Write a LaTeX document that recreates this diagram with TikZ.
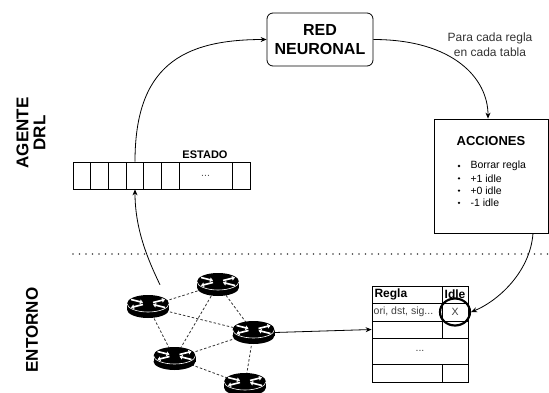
\documentclass[tikz,border=0pt]{standalone}
\usepackage{fontspec}
\setmainfont{Liberation Sans}
\usetikzlibrary{arrows.meta,shapes.geometric,calc}
\tikzset{
	arrowline/.style={line width=0.8pt, -{Stealth[length=6pt,width=5pt]}},
	link/.style={line width=0.8pt, dash pattern=on 2.5pt off 2pt, black!80},
	routerbox/.style={inner sep=0pt, minimum width=42pt, minimum height=23pt},
	title/.style={font=\fontsize{16}{19}\selectfont\bfseries, align=center},
	small/.style={font=\fontsize{10.5}{10.5}\selectfont},
}
\def\router#1{
	\begin{scope}[shift={(#1.center)}]
		\fill[black] (-21,-3) rectangle (21,3);
		\fill[black] (0,3) ellipse [x radius=21, y radius=8.5];
		\fill[black] (0,-3) ellipse [x radius=21, y radius=8.5];
		\draw[white, line width=0.6pt] (-21,-3) arc [start angle=180, end angle=0, x radius=21, y radius=8.5];
		\begin{scope}[shift={(0,-3)}, yscale=0.4]
			\draw[white, line width=1.6pt, -{Triangle[length=3pt,width=4.5pt]}] (-17,-10) -- (-5,-2.5);
			\draw[white, line width=1.6pt, -{Triangle[length=3pt,width=4.5pt]}] (17,10) -- (5,2.5);
			\draw[white, line width=1.6pt, -{Triangle[length=3pt,width=4.5pt]}] (5,-2.5) -- (17,-10);
			\draw[white, line width=1.6pt, -{Triangle[length=3pt,width=4.5pt]}] (-5,2.5) -- (-17,10);
		\end{scope}
	\end{scope}
}

\begin{document}
\begin{tikzpicture}[x=1pt, y=-1pt]
	%%%%% START %%%%%
	\useasboundingbox (0,0) rectangle (549,392);
	
	\node[title, font=\fontsize{17}{17}\selectfont\bfseries, rotate=90] (agente) at (31,133) {AGENTE\\DRL};
	\node[title, font=\fontsize{17}{17}\selectfont\bfseries, rotate=90] (entorno) at (32,330) {ENTORNO};
	
	\node[draw, rounded corners=6pt, line width=0.8pt, minimum width=106pt, minimum height=53pt, title] (red) at (320,39.5) {RED\\NEURONAL};
	\node[font=\fontsize{12}{15}\selectfont, align=center, text=black!80] (para) at (490,44.5) {Para cada regla\\en cada tabla};
	
	% acciones
	\node[draw, line width=0.8pt, minimum width=114pt, minimum height=114pt, inner sep=0pt] (acc) at (491,176) {};
	\node[font=\fontsize{13}{13}\selectfont\bfseries] (acctit) at (491,141) {ACCIONES};
	\fill (459,166) circle (1.3);
	\node[small, anchor=west] (op1) at (467,166) {Borrar regla};
	\fill (459,178.3) circle (1.3);
	\node[small, anchor=west] (op2) at (467,178.3) {+1 idle};
	\fill (459,190.6) circle (1.3);
	\node[small, anchor=west] (op3) at (467,190.6) {+0 idle};
	\fill (459,202.9) circle (1.3);
	\node[small, anchor=west] (op4) at (467,202.9) {-1 idle};
	
	% estado
	\node[draw, line width=0.8pt, minimum width=177pt, minimum height=27pt, inner sep=0pt] (estado) at (161.5,175.5) {};
	\foreach \x in {90.7,108.4,126.1,143.8,161.5,179.2,232}
		\draw[line width=0.8pt] (\x,162) -- (\x,189);
	\node[font=\fontsize{11}{11}\selectfont\bfseries] (estadotit) at (205,155) {ESTADO};
	\node[small, text=black!70] (estadopts) at (205.6,176) {...};
	
	\draw[black!75, line width=1.6pt, dash pattern=on 0pt off 6.5pt, line cap=round] (73,254) -- (549,254);
	
	% routers
	\node[routerbox] (r1) at (148,306.5) {};
	\node[routerbox] (r2) at (218,284.5) {};
	\node[routerbox] (r3) at (253.5,332.5) {};
	\node[routerbox] (r4) at (174.5,358.5) {};
	\node[routerbox] (r5) at (245,384.5) {};
	
	\draw[link] (r1.center) -- (r2.center);
	\draw[link] (r1.center) -- (r3.center);
	\draw[link] (r1.center) -- (r4.center);
	\draw[link] (r2.center) -- (r4.center);
	\draw[link] (r2.center) -- (r3.center);
	\draw[link] (r3.center) -- (r4.center);
	\draw[link] (r3.center) -- (r5.center);
	\draw[link] (r4.center) -- (r5.center);
	
	\router{r1}
	\router{r2}
	\router{r3}
	\router{r4}
	\router{r5}
	
	% tabla de reglas
	\node[draw, line width=0.8pt, minimum width=96pt, minimum height=96pt, inner sep=0pt] (tabla) at (420,334) {};
	\draw[line width=0.8pt] (372,303) -- (468,303);
	\draw[line width=0.8pt] (372,321) -- (468,321);
	\draw[line width=0.8pt] (372,338) -- (468,338);
	\draw[line width=0.8pt] (372,364) -- (468,364);
	\draw[line width=0.8pt] (442,286) -- (442,338);
	\draw[line width=0.8pt] (442,364) -- (442,382);
	\node[anchor=west, font=\fontsize{12}{12}\selectfont\bfseries] (regla) at (371,294.5) {Regla};
	\node[font=\fontsize{12}{12}\selectfont\bfseries] (idle) at (455,294.5) {Idle};
	\node[small, anchor=west, inner sep=1pt, text=black!75] (campos) at (372.5,312) {ori, dst, sig...};
	\node[small, text=black!75] (valor) at (455,312) {X};
	\node[small, text=black!75] (tablapts) at (420,351) {...};
	\node[draw, ellipse, line width=2.2pt, minimum width=30pt, minimum height=27pt, inner sep=0pt] (marca) at (455,312) {};
	
	% flechas
	\draw[arrowline] ([xshift=12pt,yshift=10pt]r1.north) .. controls +(-12,-25) and +(0,40) .. ([xshift=-26.5pt]estado.south);
	\draw[arrowline] ([xshift=-26.5pt]estado.north) .. controls +(0,-95) and +(-85,0) .. (red.west);
	\draw[arrowline] (red.east) .. controls +(80,0) and +(0,-40) .. ([xshift=-3pt]acc.north);
	\draw[arrowline] ([xshift=42pt]acc.south) .. controls +(-3,40) and +(25,-10) .. (marca.east);
	\draw[arrowline] (r3.east) -- ([yshift=4.5pt]tabla.west);
	
	%%%%% END %%%%%
\end{tikzpicture}
\end{document}
